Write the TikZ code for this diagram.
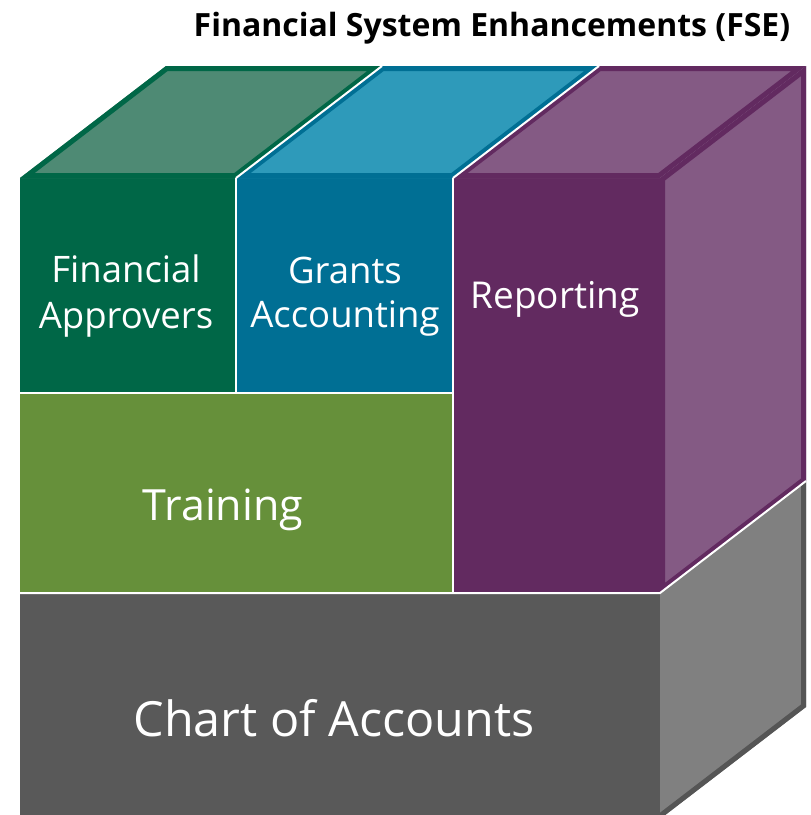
\documentclass[tikz,border=0pt]{standalone}
\usepackage{fontspec}
\setmainfont{Open Sans}
\definecolor{greenD}{HTML}{006747}
\definecolor{greenT}{HTML}{4E8A74}
\definecolor{blueD}{HTML}{006F94}
\definecolor{blueT}{HTML}{2E9ABA}
\definecolor{purpD}{HTML}{622A60}
\definecolor{purpT}{HTML}{845A84}
\definecolor{trainG}{HTML}{66903A}
\definecolor{grayD}{HTML}{595959}
\definecolor{grayS}{HTML}{808080}
\definecolor{grayB}{HTML}{555555}
\tikzset{
  sep/.style={white, line width=2pt},
  lbl/.style={text=white, align=center, inner sep=0pt},
}
\newcommand{\facebox}[3]{% path, fill, border
  \fill[#2] #1;
  \begin{scope}\clip #1; \draw[#3, line width=10pt, line join=miter] #1; \end{scope}
}
\begin{document}
\begin{tikzpicture}[x=1pt,y=-1pt]
\useasboundingbox (0,0) rectangle (811,815);
% front faces
\fill[greenD] (20,178) rectangle (236,393);
\fill[blueD] (236,178) rectangle (453,393);
\fill[purpD] (453,178) rectangle (660,593);
\fill[trainG] (20,393) rectangle (453,593);
\fill[grayD] (20,593) rectangle (660,830);
% top faces
\facebox{(20,178) -- (236,178) -- (382,66) -- (166,66) -- cycle}{greenT}{greenD}
\facebox{(236,178) -- (453,178) -- (599,66) -- (382,66) -- cycle}{blueT}{blueD}
\facebox{(453,178) -- (660,178) -- (806,66) -- (599,66) -- cycle}{purpT}{purpD}
% side faces
\facebox{(660,178) -- (806,66) -- (806,481) -- (660,593) -- cycle}{purpT}{purpD}
\fill[grayS] (660,593) -- (806,481) -- (806,707) -- (660,819) -- cycle;
\begin{scope}\clip (660,593) -- (806,481) -- (806,707) -- (660,819) -- cycle;
\draw[grayB, line width=10pt] (806,481) -- (806,707) -- (660,819);
\end{scope}
% white separators
\draw[sep] (236,178) -- (236,393);
\draw[sep] (453,178) -- (453,593);
\draw[sep] (20,393) -- (453,393);
\draw[sep] (20,593) -- (660,593) -- (806,481);
\draw[sep] (236,178) -- (382,66);
\draw[sep] (453,178) -- (599,66);
% labels
\node[lbl, font=\fontsize{32}{38}\selectfont\bfseries, text=black] (title) at (492,28) {Financial System Enhancements (FSE)};
\node[lbl, font=\fontsize{36.5}{46}\selectfont] (fa) at (126,296) {Financial\\Approvers};
\node[lbl, font=\fontsize{36.5}{44}\selectfont] (ga) at (345,297) {Grants\\Accounting};
\node[lbl, font=\fontsize{37}{44}\selectfont] (rep) at (555,299) {Reporting};
\node[lbl, font=\fontsize{43}{50}\selectfont] (tr) at (223,510) {Training};
\node[lbl, font=\fontsize{48.5}{56}\selectfont] (coa) at (334,718) {Chart of Accounts};
\end{tikzpicture}
\end{document}
